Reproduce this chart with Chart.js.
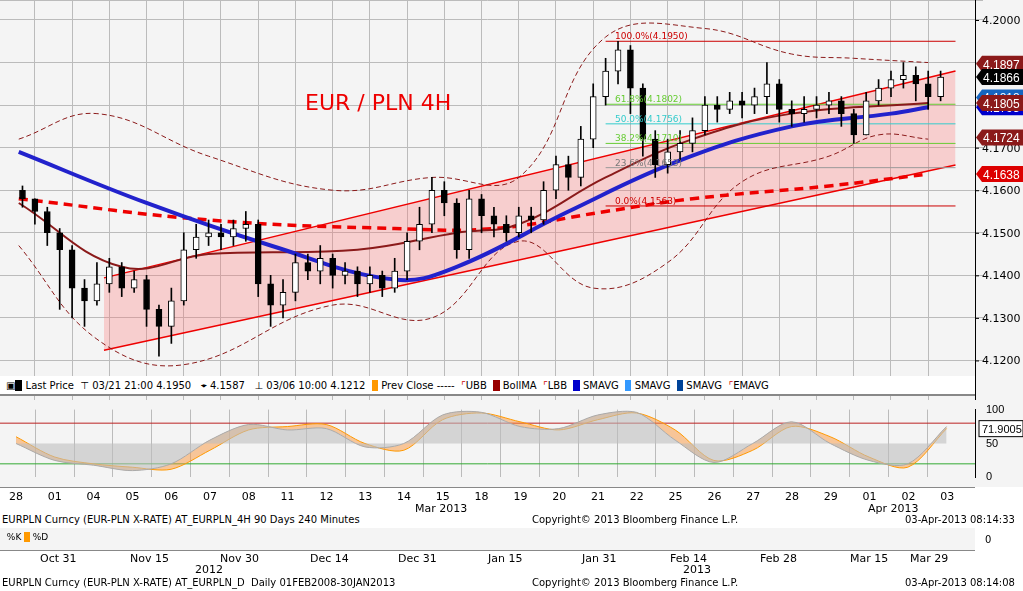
<!DOCTYPE html><html><head><meta charset="utf-8">
<script src="https://cdn.jsdelivr.net/npm/chart.js@4"></script>
<style>
body{margin:0;width:1023px;height:591px;background:#fff;font-family:Tahoma,"DejaVu Sans",sans-serif;overflow:hidden;position:relative}
.abs{position:absolute}
.t{position:absolute;font-size:11px;color:#000;white-space:nowrap}
</style></head><body>
<div class="abs" style="left:0;top:0;width:1023px;height:400px;background:#f4f4f4"><canvas id="c1" width="1023" height="400"></canvas></div>
<div class="abs" style="left:0;top:376px;width:975px;height:20px;background:#fff;font-size:10px;line-height:20px;padding-left:6px;border-bottom:2px solid #888;box-sizing:border-box">&#9635;<b style="background:#000">&nbsp;&nbsp;</b> Last Price &nbsp;&#8868; 03/21 21:00 4.1950 &nbsp; &#8982; 4.1587 &nbsp; &#8869; 03/06 10:00 4.1212 &nbsp;<span style="background:#f90">&nbsp;&nbsp;</span> Prev Close ----- &nbsp;<span style="color:#c00">&#8988;</span>UBB &nbsp;<span style="background:#900">&nbsp;&nbsp;</span> BollMA &nbsp;<span style="color:#c00">&#8988;</span>LBB &nbsp;<span style="background:#00c">&nbsp;&nbsp;</span> SMAVG &nbsp;<span style="background:#39f">&nbsp;&nbsp;</span> SMAVG &nbsp;<span style="background:#049">&nbsp;&nbsp;</span> SMAVG &nbsp;<span style="color:#c00">&#8988;</span>EMAVG</div>
<div class="abs" style="left:0;top:400px;width:1023px;height:87px;background:#f4f4f4"><canvas id="c2" width="1023" height="87"></canvas></div>
<div id="dates" class="abs" style="left:0;top:487px;width:975px;height:26px;border-top:1px solid #888"></div>
<div class="t" style="left:2px;top:514px;font-size:10px">EURPLN Curncy (EUR-PLN X-RATE) AT_EURPLN_4H 90 Days 240 Minutes</div>
<div class="t" style="left:532px;top:514px;font-size:10px">Copyright© 2013 Bloomberg Finance L.P.</div>
<div class="t" style="left:905px;top:514px;font-size:10px">03-Apr-2013 08:14:33</div>
<div class="abs" style="left:0;top:528px;width:975px;height:22px;background:#f4f4f4;border-bottom:1px solid #888"></div>
<div class="t" style="left:4px;top:532px;font-size:9px">&nbsp;%K <span style="background:#f90">&nbsp;&nbsp;</span> %D</div>
<div class="t" style="left:985px;top:534px;font-size:10px">0</div>
<div id="dates2" class="abs" style="left:0;top:550px;width:975px;height:26px"></div>
<div class="t" style="left:2px;top:577px;font-size:10px">EURPLN Curncy (EUR-PLN X-RATE) AT_EURPLN_D &nbsp;Daily 01FEB2008-30JAN2013</div>
<div class="t" style="left:532px;top:577px;font-size:10px">Copyright© 2013 Bloomberg Finance L.P.</div>
<div class="t" style="left:905px;top:577px;font-size:10px">03-Apr-2013 08:14:08</div>
<script>
const dayLabels=["28","01","04","05","06","07","08","11","12","13","14","15","18","19","20","21","22","25","26","27","28","29","01","02","03"];
const closes=[4.158,4.155,4.150, 4.146,4.137,4.134, 4.138,4.142,4.137, 4.139,4.132,4.128, 4.134,4.146,4.149, 4.150,4.149,4.151, 4.152,4.138,4.133, 4.136,4.143,4.141, 4.144,4.140,4.141, 4.138,4.140,4.137, 4.141,4.148,4.152, 4.160,4.157,4.146, 4.158,4.154,4.152, 4.150,4.154,4.153, 4.160,4.166,4.163, 4.172,4.182,4.188, 4.193,4.184,4.172, 4.166,4.169,4.171, 4.174,4.180,4.179, 4.181,4.180,4.182, 4.185,4.179,4.178, 4.179,4.180,4.181, 4.178,4.173,4.181, 4.184,4.186,4.187, 4.185,4.182,4.1866];
const highs=[4.161,4.158,4.156, 4.151,4.147,4.139, 4.143,4.144,4.143, 4.141,4.140,4.133, 4.137,4.150,4.152, 4.153,4.152,4.153, 4.155,4.153,4.140, 4.139,4.145,4.145, 4.147,4.145,4.143, 4.142,4.142,4.141, 4.144,4.150,4.156, 4.163,4.162,4.158, 4.160,4.159,4.156, 4.154,4.156,4.156, 4.162,4.168,4.168, 4.175,4.185,4.191, 4.195,4.194,4.185, 4.174,4.172,4.174, 4.177,4.182,4.182, 4.183,4.183,4.184, 4.190,4.186,4.181, 4.182,4.182,4.183, 4.182,4.179,4.183, 4.186,4.188,4.190, 4.189,4.188,4.188];
const lows=[4.156,4.152,4.147, 4.132,4.130,4.128, 4.133,4.136,4.135, 4.136,4.128,4.121, 4.124,4.133,4.144, 4.147,4.146,4.147, 4.148,4.135,4.128, 4.130,4.134,4.139, 4.138,4.137,4.138, 4.135,4.136,4.135, 4.136,4.139,4.146, 4.150,4.154,4.144, 4.144,4.150,4.149, 4.148,4.149,4.150, 4.152,4.158,4.160, 4.161,4.170,4.180, 4.185,4.178,4.168, 4.163,4.164,4.167, 4.169,4.173,4.176, 4.178,4.177,4.178, 4.178,4.176,4.175, 4.176,4.177,4.178, 4.175,4.171,4.173, 4.180,4.182,4.184, 4.181,4.179,4.181];
const smaPts=[[-0.3,4.169],[10,4.157],[20,4.147],[30,4.139],[35,4.142],[44,4.155],[53,4.167],[62,4.175],[70,4.178],[73,4.1795]];
const emaPts=[[-0.3,4.158],[15,4.153],[30,4.151],[38,4.151],[47,4.155],[54,4.158],[65,4.161],[73,4.1638]];
const bollPts=[[-0.3,4.157],[8,4.142],[15,4.145],[27,4.146],[35,4.150],[40,4.152],[47,4.163],[54,4.172],[62,4.178],[73,4.1805]];
const ubbPts=[[-0.3,4.172],[6,4.178],[15,4.168],[25,4.160],[33,4.163],[40,4.163],[47,4.196],[55,4.198],[62,4.192],[67,4.191],[73,4.190]];
const lbbPts=[[-0.3,4.147],[6,4.125],[13,4.119],[25,4.133],[33,4.130],[40,4.148],[46,4.137],[52,4.143],[58,4.162],[65,4.168],[69,4.173],[73,4.172]];
const chanUpper=[[6.57,4.1394],[75.2,4.1880]];
const chanLower=[[6.57,4.1224],[75.2,4.1659]];
const fibLevels=[4.1950,4.1802,4.1756,4.1710,4.1653,4.1563];
const fibNames=["100.0%(4.1950)","61.8%(4.1802)","50.0%(4.1756)","38.2%(4.1710)","23.6%(4.1653)","0.0%(4.1563)"];
const fibColors=["#c00","#6c3","#3cc","#6c3","#999","#c00"];
const stochD=[60,30,20,15,12,40,70,75,78,50,40,85,95,82,70,85,95,70,25,40,75,60,30,15,72];
const stochK=[50,25,18,10,20,55,78,70,72,45,50,92,96,75,72,92,96,55,22,50,82,50,25,20,75];
const axisLabels=[{v:4.2,t:"4.2000"},{v:4.17,t:"4.1700"},{v:4.16,t:"4.1600"},{v:4.15,t:"4.1500"},{v:4.14,t:"4.1400"},{v:4.13,t:"4.1300"},{v:4.12,t:"4.1200"}];
const tags=[{v:4.1897,t:"4.1897",c:"#8b1a1a"},{v:4.1866,t:"4.1866",c:"#000"},{v:4.1818,t:"4.1818",c:"#1565c0"},{v:4.1795,t:"4.1795",c:"#00c"},{v:4.1805,t:"4.1805",c:"#8b1a1a"},{v:4.1724,t:"4.1724",c:"#8b1a1a"},{v:4.1638,t:"4.1638",c:"#d00"}];

const XMIN=-0.24,XMAX=75.2;
const pts=a=>a.map(p=>({x:p[0],y:p[1]}));
const bodies=closes.map((c,i)=>{const o=i?closes[i-1]:4.160;return {x:i,y:[o,c],up:c>=o};});
const wicks=closes.map((c,i)=>({x:i,y:[lows[i],highs[i]]}));
const ds=[
 {type:'line',data:pts(chanUpper),borderColor:'#e00',borderWidth:1.5,pointRadius:0,order:10},
 {type:'line',data:pts(chanLower),borderColor:'#e00',borderWidth:1.5,pointRadius:0,fill:'-1',backgroundColor:'rgba(255,120,120,0.3)',order:10},
 {type:'line',data:pts(ubbPts),borderColor:'#8b1a1a',borderWidth:1,borderDash:[5,3],pointRadius:0,tension:0.4,order:5},
 {type:'line',data:pts(lbbPts),borderColor:'#8b1a1a',borderWidth:1,borderDash:[5,3],pointRadius:0,tension:0.4,order:5},
 {type:'line',data:pts(bollPts),borderColor:'#8b1a1a',borderWidth:2,pointRadius:0,tension:0.4,order:4},
 {type:'line',data:pts(emaPts),borderColor:'#e00',borderWidth:3.5,borderDash:[9,6],pointRadius:0,tension:0.4,order:4},
 {type:'line',data:pts(smaPts),borderColor:'#22c',borderWidth:4,pointRadius:0,tension:0.4,order:3},
 {type:'bar',data:wicks,backgroundColor:'#000',barThickness:1,grouped:false,order:2},
 {type:'bar',data:bodies,backgroundColor:bodies.map(b=>b.up?'#fff':'#000'),borderColor:'#000',borderWidth:1,borderSkipped:false,barThickness:6,grouped:false,order:1}
];
fibLevels.forEach((v,i)=>ds.push({type:'line',data:[{x:47,y:v},{x:XMAX,y:v}],borderColor:fibColors[i],borderWidth:1,pointRadius:0,order:9}));
const overlay={id:'ov',afterDraw(ch){const c=ch.ctx,y=ch.scales.y,a=ch.chartArea;c.save();
 c.font='22px "DejaVu Sans"';c.fillStyle='#e00';c.fillText('EUR / PLN 4H',305,110);
 c.font='9px "DejaVu Sans"';fibLevels.forEach((v,i)=>{c.fillStyle=fibColors[i]=='#999'?'#777':fibColors[i];c.fillText(fibNames[i],615,y.getPixelForValue(v)-2);});
 c.font='11px "DejaVu Sans"';
 axisLabels.forEach(l=>{c.fillStyle='#000';c.fillText(l.t,982,y.getPixelForValue(l.v)+4);c.fillRect(a.right,y.getPixelForValue(l.v),4,1);});
 tags.forEach(t=>{const py=y.getPixelForValue(t.v);c.fillStyle=t.c;c.beginPath();c.moveTo(a.right+1,py);c.lineTo(a.right+7,py-8);c.lineTo(1023,py-8);c.lineTo(1023,py+8);c.lineTo(a.right+7,py+8);c.closePath();c.fill();c.fillStyle='#fff';c.font='12px "Liberation Sans"';c.fillText(t.t,983,py+5);});
 c.restore();}};
new Chart(document.getElementById('c1'),{data:{datasets:ds},plugins:[overlay],options:{responsive:false,animation:false,devicePixelRatio:1,layout:{padding:0},
 plugins:{legend:{display:false},tooltip:{enabled:false}},
 scales:{x:{type:'linear',min:XMIN,max:XMAX,display:true,ticks:{display:false},grid:{color:'#bbb',tickLength:0,drawTicks:false},border:{display:false},afterBuildTicks:s=>{s.ticks=dayLabels.map((d,i)=>({value:i*3-0.5}));}},
  y:{position:'right',min:4.1107,max:4.2047,afterFit:s=>{s.width=48},ticks:{display:false,stepSize:0.01},grid:{color:'#bbb',borderDash:[2,2]},border:{color:'#000'}}}}});

new Chart(document.getElementById('c2'),{type:'line',data:{datasets:[
 {data:stochK.map((v,i)=>({x:i*3+1,y:v})),borderColor:'#aaa',backgroundColor:'rgba(190,190,190,0.6)',fill:{value:50},pointRadius:0,borderWidth:1,tension:0.3},
 {data:stochD.map((v,i)=>({x:i*3+1,y:v})),borderColor:'#f90',backgroundColor:'rgba(250,150,60,0.5)',fill:'-1',pointRadius:0,borderWidth:1,tension:0.3},
 {data:[{x:XMIN,y:80},{x:XMAX,y:80}],borderColor:'#b22',borderWidth:1,pointRadius:0},
 {data:[{x:XMIN,y:20},{x:XMAX,y:20}],borderColor:'#3a3',borderWidth:1,pointRadius:0}]},
 plugins:[{id:'o2',afterDraw(ch){const c=ch.ctx,y=ch.scales.y,a=ch.chartArea;const py=y.getPixelForValue(71.9);c.fillStyle='#fff';c.strokeStyle='#000';c.fillRect(a.right+4,py-8,44,16);c.strokeRect(a.right+4,py-8,44,16);c.fillStyle='#000';c.font='11px "Liberation Sans"';c.fillText('71.9005',a.right+7,py+4);}}],
 options:{responsive:false,animation:false,devicePixelRatio:1,layout:{padding:{top:6,bottom:4}},plugins:{legend:{display:false},tooltip:{enabled:false}},
 scales:{x:{type:'linear',min:XMIN,max:XMAX,ticks:{display:false},grid:{color:'#bbb',drawTicks:false},border:{display:false},afterBuildTicks:s=>{s.ticks=dayLabels.map((d,i)=>({value:i*3-0.5}));}},
 y:{position:'right',min:0,max:100,afterFit:s=>{s.width=48},ticks:{stepSize:50,color:'#000',font:{size:11}},grid:{display:false},border:{color:'#000'}}}}});
const dd=document.getElementById('dates');
dayLabels.forEach((d,i)=>{const px=16+i*38.8;dd.insertAdjacentHTML('beforeend',`<div class="t" style="left:${px-7}px;top:2px">${d}</div>`);});
dd.insertAdjacentHTML('beforeend','<div class="t" style="left:415px;top:14px">Mar 2013</div><div class="t" style="left:868px;top:14px">Apr 2013</div>');
const d2=document.getElementById('dates2');
[["Oct 31",55],["Nov 15",145],["Nov 30",235],["Dec 14",325],["Dec 31",413],["Jan 15",503],["Jan 31",597],["Feb 14",685],["Feb 28",775],["Mar 15",865],["Mar 29",925]].forEach(a=>d2.insertAdjacentHTML('beforeend',`<div class="t" style="left:${a[1]-15}px;top:2px">${a[0]}</div>`));
d2.insertAdjacentHTML('beforeend','<div class="t" style="left:195px;top:13px">2012</div><div class="t" style="left:683px;top:13px">2013</div>');
</script></body></html>
